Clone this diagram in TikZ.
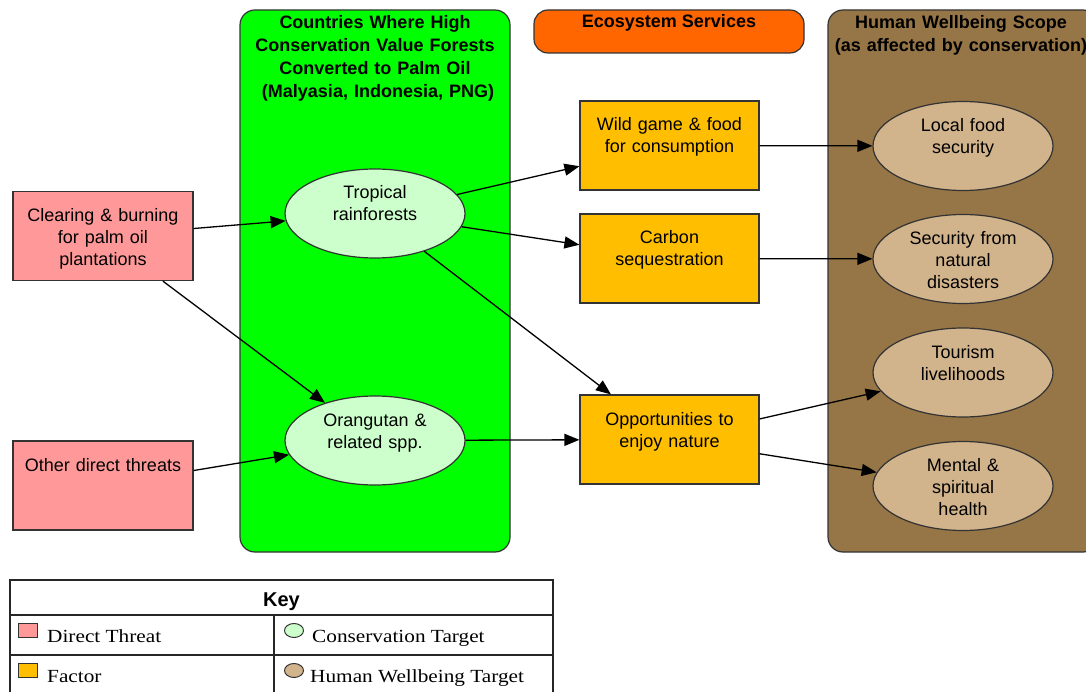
\documentclass[tikz,border=0pt]{standalone}
\usepackage{fontspec}
\setmainfont{Liberation Sans}
\newfontfamily\keyfont[FakeStretch=1.15]{Liberation Serif}
\usetikzlibrary{arrows.meta,shapes.geometric}

\definecolor{zonegreen}{HTML}{00FF00}
\definecolor{targetgreen}{HTML}{CCFFCC}
\definecolor{threatpink}{HTML}{FF9999}
\definecolor{factorgold}{HTML}{FFBF00}
\definecolor{esorange}{HTML}{FF6600}
\definecolor{scopebrown}{HTML}{967546}
\definecolor{welltan}{HTML}{D2B48C}
\definecolor{edgegray}{HTML}{333333}

\begin{document}
\begin{tikzpicture}[x=1pt,y=-1pt,
  every node/.style={font=\fontsize{18}{22}\selectfont, inner sep=0pt},
  item/.style={draw=edgegray, line width=1.2pt, align=center,
               text height=7pt, text depth=36pt,
               minimum width=180pt, minimum height=89pt},
  threat/.style={item, rectangle, fill=threatpink, text width=170pt},
  factor/.style={item, rectangle, fill=factorgold, minimum width=179pt, text width=170pt},
  ctarget/.style={item, ellipse, fill=targetgreen, text width=120pt},
  htarget/.style={item, ellipse, fill=welltan, text width=120pt},
  zone/.style={draw=edgegray, line width=1.2pt, rectangle, rounded corners=15pt,
               minimum width=270pt, minimum height=542pt},
  zonetitle/.style={font=\bfseries\fontsize{18}{23}\selectfont, align=center,
               text width=262pt, text height=13pt, anchor=north},
  link/.style={-{Triangle[length=15pt,width=12pt]}, line width=1.3pt, black},
  keyline/.style={draw=black!85, line width=1.2pt},
  keytext/.style={anchor=base west, font=\keyfont\fontsize{18.5}{22}\selectfont},
  keybox/.style={draw=edgegray, line width=1pt, rectangle, minimum width=19pt, minimum height=14pt},
  keyoval/.style={draw=edgegray, line width=1pt, ellipse, minimum width=19pt, minimum height=14pt},
]
\clip (0,0) rectangle (1086,692);

% scope zones
\node[zone, fill=zonegreen] (hcvf) at (375,281) {};
\node[zonetitle] (hcvftitle) at (375,15)
  {Countries Where High\\Conservation Value Forests\\Converted to Palm Oil\\\hspace*{6pt}(Malyasia, Indonesia, PNG)};
\node[zone, fill=scopebrown] (scope) at (963,281) {};
\node[zonetitle] (scopetitle) at (961,15)
  {Human Wellbeing Scope\\(as affected by conservation)};
\node[draw=edgegray, line width=1.2pt, fill=esorange, rounded corners=14pt,
      minimum width=270pt, minimum height=43pt, text height=6pt, text depth=13pt,
      font=\bfseries\fontsize{18}{23}\selectfont] (es) at (669,31.5) {Ecosystem Services};

% direct threats
\node[threat] (clear) at (103,236) {Clearing \& burning\\for palm oil\\plantations};
\node[threat] (other) at (103,485.5) {Other direct threats};

% conservation targets
\node[ctarget] (trop) at (375,213.5) {Tropical\\rainforests};
\node[ctarget] (orang) at (375,440.5) {Orangutan \&\\related spp.};

% ecosystem service factors
\node[factor] (wild) at (669.5,145.5) {Wild game \& food\\for consumption};
\node[factor] (carbon) at (669.5,258.5) {Carbon\\sequestration};
\node[factor] (opp) at (669.5,439.5) {Opportunities to\\enjoy nature};

% human wellbeing targets
\node[htarget] (food) at (963,146) {Local food\\security};
\node[htarget] (safe) at (963,259) {Security from\\natural\\disasters};
\node[htarget] (tour) at (963,372.5) {Tourism\\livelihoods};
\node[htarget] (mind) at (963,486) {Mental \&\\spiritual\\health};

% links
\draw[link] (clear) -- (trop);
\draw[link] (clear) -- (orang);
\draw[link] (other) -- (orang);
\draw[link] (trop) -- (wild);
\draw[link] (trop) -- (carbon);
\draw[link] (trop) -- (opp);
\draw[link] (orang) -- (opp);
\draw[link] (wild) -- (food);
\draw[link] (carbon) -- (safe);
\draw[link] (opp) -- (tour);
\draw[link] (opp) -- (mind);

% key
\draw[keyline, fill=white] (10,580) rectangle (553,710);
\draw[keyline] (10,615) -- (553,615);
\draw[keyline] (10,655) -- (553,655);
\draw[keyline] (274,615) -- (274,710);
\node[font=\bfseries\fontsize{20}{24}\selectfont, anchor=base] (keytitle) at (281.5,606) {Key};
\node[keybox, fill=threatpink] (kthreat) at (27.5,630.5) {};
\node[keytext] (kthreatt) at (47,642) {Direct Threat};
\node[keyoval, fill=targetgreen] (ktarget) at (294,630.5) {};
\node[keytext] (ktargett) at (312,642) {Conservation Target};
\node[keybox, fill=factorgold] (kfactor) at (27.5,670.5) {};
\node[keytext] (kfactort) at (47,682) {Factor};
\node[keyoval, fill=welltan] (kwell) at (294,670.5) {};
\node[keytext] (kwellt) at (310,682) {Human Wellbeing Target};
\end{tikzpicture}
\end{document}
